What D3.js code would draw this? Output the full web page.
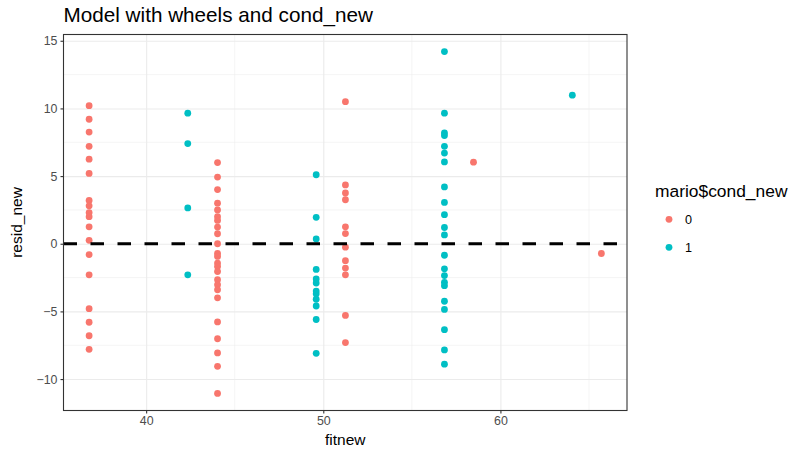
<!DOCTYPE html>
<meta charset="utf-8">
<style>
body { margin: 0; background: #fff; }
text { font-family: "Liberation Sans", Arial, sans-serif; }
</style>
<body>
<script src="https://d3js.org/d3.v7.min.js"></script>
<script>

// fitted values (one per group of points) and the condition of that group
var fitValues = [36.78, 42.35, 44.03, 49.6, 51.25, 56.84, 58.48, 64.06, 65.7];
var fitCond   = ["0", "1", "0", "1", "0", "1", "0", "1", "0"];

// residuals at each fitted value
var residGroups = [
  [10.2, 9.2, 8.25, 7.2, 6.25, 5.2, 3.2, 2.8, 2.3, 2.0, 1.25, 0.25, -0.8, -2.3, -4.8, -5.8, -6.8, -7.8],
  [9.65, 7.4, 2.65, -2.3],
  [6.0, 4.93, 4.0, 3.0, 2.5, 2.0, 1.72, 1.23, 0.74, 0.0, -0.72, -0.94, -1.43, -1.68, -2.05, -2.66, -3.03, -3.4, -4.0, -5.78, -7.02, -8.07, -9.06, -11.06],
  [5.1, 1.95, 0.35, -1.9, -2.6, -2.9, -3.5, -3.7, -4.1, -4.6, -5.6, -8.1],
  [10.5, 4.35, 3.75, 3.25, 1.25, 0.75, -0.25, -1.25, -1.8, -2.3, -5.3, -7.3],
  [14.2, 9.65, 8.2, 8.0, 7.2, 6.7, 6.05, 4.2, 3.05, 2.15, 1.2, 0.65, -0.85, -1.85, -2.35, -2.85, -3.1, -4.25, -4.85, -6.35, -7.85, -8.9],
  [6.03],
  [10.98],
  [-0.72]
];

var condLevels = ["0", "1"];
var condColors = ["#F8766D", "#00BFC4"];
var xTicks = [40, 50, 60];
var yTicks = [-10, -5, 0, 5, 10, 15];

// flatten into points
var data = [];
fitValues.forEach(function(f, i) {
  residGroups[i].forEach(function(r) {
    data.push({fit: f, resid: r, cond: fitCond[i]});
  });
});

var W = 792, H = 453;
var panel = {left: 63.5, right: 627, top: 34.5, bottom: 410.5};

function expand(ext) {
  var d = (ext[1] - ext[0]) * 0.05;
  return [ext[0] - d, ext[1] + d];
}

var x = d3.scaleLinear()
    .domain(expand(d3.extent(data, function(d) { return d.fit; })))
    .range([panel.left, panel.right]);
var y = d3.scaleLinear()
    .domain(expand(d3.extent(data, function(d) { return d.resid; })))
    .range([panel.bottom, panel.top]);
var color = d3.scaleOrdinal().domain(condLevels).range(condColors);

var svg = d3.select("body").append("svg")
    .attr("width", W)
    .attr("height", H);

var pw = panel.right - panel.left, ph = panel.bottom - panel.top;

// minor grid
var xMinor = [35, 45, 55, 65].filter(function(v) { return x(v) > panel.left && x(v) < panel.right; });
var yMinor = [-12.5, -7.5, -2.5, 2.5, 7.5, 12.5].filter(function(v) { return y(v) > panel.top && y(v) < panel.bottom; });

var grid = svg.append("g");
grid.selectAll(".xminor").data(xMinor).enter().append("line")
    .attr("x1", function(d) { return x(d); }).attr("x2", function(d) { return x(d); })
    .attr("y1", panel.top).attr("y2", panel.bottom)
    .attr("stroke", "#EBEBEB").attr("stroke-width", 0.55);
grid.selectAll(".yminor").data(yMinor).enter().append("line")
    .attr("y1", function(d) { return y(d); }).attr("y2", function(d) { return y(d); })
    .attr("x1", panel.left).attr("x2", panel.right)
    .attr("stroke", "#EBEBEB").attr("stroke-width", 0.55);

// major grid
grid.append("g")
    .attr("transform", "translate(0," + panel.bottom + ")")
    .call(d3.axisBottom(x).tickValues(xTicks).tickSize(-ph).tickFormat(""))
    .call(function(g) { g.select(".domain").remove(); })
    .selectAll("line").attr("stroke", "#EBEBEB").attr("stroke-width", 1.1);
grid.append("g")
    .attr("transform", "translate(" + panel.left + ",0)")
    .call(d3.axisLeft(y).tickValues(yTicks).tickSize(-pw).tickFormat(""))
    .call(function(g) { g.select(".domain").remove(); })
    .selectAll("line").attr("stroke", "#EBEBEB").attr("stroke-width", 1.1);

// points
svg.append("g").selectAll("circle")
    .data(data)
  .enter().append("circle")
    .attr("cx", function(d) { return x(d.fit); })
    .attr("cy", function(d) { return y(d.resid); })
    .attr("r", 3.4)
    .attr("fill", function(d) { return color(d.cond); });

// zero line
svg.append("line")
    .attr("x1", panel.left).attr("x2", panel.right)
    .attr("y1", y(0)).attr("y2", y(0))
    .attr("stroke", "#000")
    .attr("stroke-width", 3.2)
    .attr("stroke-dasharray", "13.5,13.5");

// panel border
svg.append("rect")
    .attr("x", panel.left).attr("y", panel.top)
    .attr("width", pw).attr("height", ph)
    .attr("fill", "none").attr("stroke", "#333333").attr("stroke-width", 1.1);

// axes
var xAxis = svg.append("g")
    .attr("transform", "translate(0," + panel.bottom + ")")
    .call(d3.axisBottom(x).tickValues(xTicks).tickSize(3).tickPadding(3));
var yAxis = svg.append("g")
    .attr("transform", "translate(" + panel.left + ",0)")
    .call(d3.axisLeft(y).tickValues(yTicks).tickSize(3).tickPadding(3)
          .tickFormat(function(d) { return d < 0 ? "\u2212" + Math.abs(d) : d; }));
[xAxis, yAxis].forEach(function(a) {
  a.select(".domain").remove();
  a.selectAll("line").attr("stroke", "#333333").attr("stroke-width", 1.1);
  a.selectAll("text").attr("fill", "#4D4D4D")
    .style("font-size", "12.4px")
    .style("font-family", "'Liberation Sans', Arial, sans-serif");
});

// axis titles
svg.append("text")
    .attr("x", (panel.left + panel.right) / 2).attr("y", 445)
    .attr("text-anchor", "middle")
    .style("font-size", "15.5px")
    .text("fitnew");
svg.append("text")
    .attr("transform", "translate(22," + ((panel.top + panel.bottom) / 2) + ") rotate(-90)")
    .attr("text-anchor", "middle")
    .style("font-size", "15.5px")
    .text("resid_new");

// title
svg.append("text")
    .attr("x", panel.left).attr("y", 22)
    .style("font-size", "20.7px")
    .text("Model with wheels and cond_new");

// legend
var legend = svg.append("g");
legend.append("text")
    .attr("x", 655).attr("y", 197)
    .style("font-size", "17.4px")
    .text("mario$cond_new");
condLevels.forEach(function(c, i) {
  legend.append("circle")
    .attr("cx", 669).attr("cy", 219.3 + i * 28)
    .attr("r", 3.4)
    .attr("fill", color(c));
  legend.append("text")
    .attr("x", 685).attr("y", 223.8 + i * 28)
    .style("font-size", "12.6px")
    .text(c);
});

</script>
</body>
